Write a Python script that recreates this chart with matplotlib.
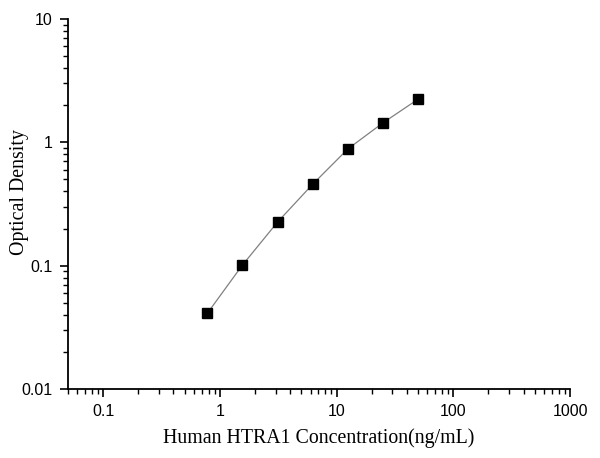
import matplotlib
matplotlib.use("Agg")
import matplotlib.pyplot as plt
from matplotlib.ticker import LogLocator, NullFormatter, FixedLocator, FixedFormatter

plt.rcParams["font.family"] = ["Liberation Sans", "DejaVu Sans"]

# standard curve data
concentration = [0.78, 1.56, 3.125, 6.25, 12.5, 25, 50]
optical_density = [0.041, 0.101, 0.226, 0.458, 0.884, 1.44, 2.24]

x_ticks = [0.1, 1, 10, 100, 1000]
x_tick_labels = ["0.1", "1", "10", "100", "1000"]
y_ticks = [0.01, 0.1, 1, 10]
y_tick_labels = ["0.01", "0.1", "1", "10"]

fig = plt.figure(figsize=(6, 4.58), dpi=100)
ax = fig.add_axes([68 / 600, 1 - 389 / 458, (570 - 68) / 600, (389 - 19) / 458])

ax.plot(concentration, optical_density, color="#808080", linewidth=0.9,
        marker="s", markersize=6.5, markerfacecolor="black",
        markeredgecolor="black", zorder=3)

ax.set_xscale("log")
ax.set_yscale("log")
ax.set_xlim(0.05, 1000)
ax.set_ylim(0.01, 10)

ax.spines["top"].set_visible(False)
ax.spines["right"].set_visible(False)
for side in ("left", "bottom"):
    ax.spines[side].set_linewidth(1.3)

ax.xaxis.set_major_locator(FixedLocator(x_ticks))
ax.xaxis.set_major_formatter(FixedFormatter(x_tick_labels))
ax.yaxis.set_major_locator(FixedLocator(y_ticks))
ax.yaxis.set_major_formatter(FixedFormatter(y_tick_labels))
ax.xaxis.set_minor_locator(LogLocator(base=10, subs=range(2, 10)))
ax.yaxis.set_minor_locator(LogLocator(base=10, subs=range(2, 10)))
ax.xaxis.set_minor_formatter(NullFormatter())
ax.yaxis.set_minor_formatter(NullFormatter())

ax.tick_params(which="major", direction="out", length=6, width=1.2,
               labelsize=11.5, pad=5)
ax.tick_params(which="minor", direction="out", length=3.5, width=1.0)

ax.set_xlabel("Human HTRA1 Concentration(ng/mL)", family="Liberation Serif",
              fontsize=14.3)
ax.set_ylabel("Optical Density", family="Liberation Serif", fontsize=14.3)
ax.xaxis.set_label_coords(0.5, -(438 - 389) / 370, transform=ax.transAxes)
ax.xaxis.label.set_va("center")
ax.yaxis.set_label_coords(-(68 - 20) / 502, (389 - 192) / 370, transform=ax.transAxes)
ax.yaxis.label.set_va("center")

fig.savefig("out.png", dpi=100)
